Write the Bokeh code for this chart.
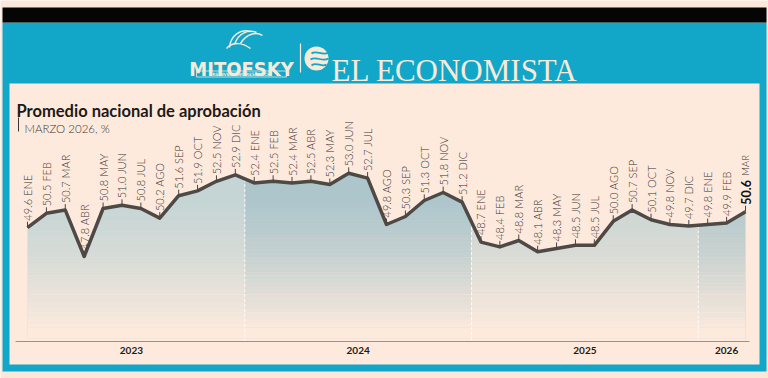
import numpy as np
from bokeh.plotting import figure
from bokeh.models import Range1d
from bokeh.core.properties import value
from bokeh.embed import file_html
from bokeh.resources import INLINE

# ---------------- data ----------------
months = ["ENE", "FEB", "MAR", "ABR", "MAY", "JUN", "JUL", "AGO", "SEP", "OCT", "NOV", "DIC"]
years = ["2023", "2024", "2025", "2026"]
values_2023 = [49.6, 50.5, 50.7, 47.8, 50.8, 51.0, 50.8, 50.2, 51.6, 51.9, 52.5, 52.9]
values_2024 = [52.4, 52.5, 52.4, 52.5, 52.3, 53.0, 52.7, 49.8, 50.3, 51.3, 51.8, 51.2]
values_2025 = [48.7, 48.4, 48.8, 48.1, 48.3, 48.5, 48.5, 50.0, 50.7, 50.1, 49.8, 49.7]
values_2026 = [49.8, 49.9, 50.6]
title = "Promedio nacional de aprobación"
subtitle = "MARZO 2026, %"

series = [values_2023, values_2024, values_2025, values_2026]
vals = np.array(sum(series, []), dtype=float)
n = len(vals)
idx = np.arange(n, dtype=float)
mlabels = [months[i % 12] for i in range(n)]

# ---------------- styling ----------------
W, H = 768, 378
PEACH = "#fce7d9"
PANEL = "#fdeadd"
TEAL = "#12a7c8"
CREAM = "#f7ead8"
LINE = "#4f4946"
TXT = "#383230"
FONT = "Lato"
LIGHT = "'Lato Light', Lato"
COND = "'DejaVu Sans Condensed', 'DejaVu Sans'"

# pixel placement of the plotting area
X0_PX, X1_PX = 27.0, 745.0
step = (X1_PX - X0_PX) / (n - 1)
REF_V, REF_Y, PPU = 47.8, 256.0, 16.0  # value at pixel row, pixels per unit
LABEL_GAP = 7.0 / PPU                    # label starts 7 px above its point


def val_at(ypx):
    return REF_V + (REF_Y - ypx) / PPU


p = figure(width=W, height=H, x_range=Range1d(0, W), y_range=Range1d(H, 0),
           x_axis_type=None, y_axis_type=None, min_border=0,
           toolbar_location=None, output_backend="svg")
p.grid.visible = False
p.outline_line_color = None
p.background_fill_color = PEACH
p.border_fill_color = PEACH
p.extra_x_ranges = {"idx": Range1d(-X0_PX / step, (W - X0_PX) / step)}
p.extra_y_ranges = {"val": Range1d(val_at(H), val_at(0))}

# ---------------- frame / header ----------------
p.quad(left=[2], right=[766], top=[22], bottom=[371], fill_color=TEAL, line_color=None)
p.quad(left=[2], right=[766], top=[7], bottom=[22], fill_color="#050505", line_color=None)
p.quad(left=[9], right=[759], top=[83], bottom=[364], fill_color=PANEL, line_color=None)

# Mitofsky logo
p.text(x=[241], y=[68], text=["MITOFSKY"], text_font=value(COND),
       text_font_style="bold", text_font_size="20px", text_align="center",
       text_baseline="alphabetic", text_color=CREAM)
p.quad(left=[196], right=[286], top=[70.5], bottom=[76.5], fill_color=None,
       line_color=CREAM, line_width=0.8)
p.text(x=[241], y=[73.8], text=["REINVENTING RESEARCH"], text_font=value("DejaVu Sans Condensed"),
       text_font_style="bold", text_font_size="4.6px", text_align="center",
       text_baseline="middle", text_color=CREAM)
p.bezier(x0=[229, 234, 240], y0=[47, 44, 43], x1=[250, 256, 262], y1=[31, 32, 35],
         cx0=[230, 238, 246], cy0=[35, 32, 33], cx1=[240, 248, 256], cy1=[28, 29, 31],
         line_color=CREAM, line_width=1.5)
p.bezier(x0=[226], y0=[48], x1=[250], y1=[48], cx0=[232], cy0=[41], cx1=[242], cy1=[42],
         line_color=CREAM, line_width=1.5)
# separator
p.segment(x0=[300], y0=[43], x1=[300], y1=[72], line_color=CREAM, line_width=1.2)
# El Economista logo (globe with stripes)
p.scatter(x=[316], y=[58], size=24, marker="circle", fill_color=CREAM, line_color=None)
p.bezier(x0=[311, 310, 311], y0=[53, 59, 65], x1=[328, 328, 326], y1=[52, 58, 64],
         cx0=[316, 316, 316], cy0=[49, 55, 61], cx1=[322, 322, 321], cy1=[56, 62, 67],
         line_color=TEAL, line_width=1.8)
p.text(x=[331], y=[70], text=["EL ECONOMISTA"], text_font=value("Liberation Serif"),
       text_font_size="31px", text_baseline="alphabetic", text_color=CREAM)

# title / subtitle
p.text(x=[16], y=[110], text=[title], text_font=value(FONT), text_font_style="bold",
       text_font_size="16.5px", text_baseline="alphabetic", text_color="#1d1917")
p.segment(x0=[18], y0=[117], x1=[18], y1=[131], line_color="#3a3432", line_width=1)
p.text(x=[24], y=[128], text=[subtitle], text_font=value(LIGHT),
       text_font_size="11.5px", text_baseline="alphabetic", text_color="#3a3432")

# ---------------- area fills per year ----------------
bottom_val = val_at(338)
bounds = [0.0, 11.5, 23.5, 35.5, float(n - 1)]
fills = ["#c5d5d5", "#adc6cc", "#cad6d3", "#b3c8cc"]
for k in range(4):
    lo, hi = bounds[k], bounds[k + 1]
    inner = idx[(idx > lo) & (idx < hi)]
    xs = np.concatenate([[lo], inner, [hi]])
    ys = np.interp(xs, idx, vals)
    p.varea(x=xs, y1=np.full(len(xs), bottom_val), y2=ys, fill_color=fills[k],
            x_range_name="idx", y_range_name="val")

# fade to the panel colour towards the bottom
g_top, g_bot, steps = 190.0, 338.0, 40
edges = np.linspace(g_top, g_bot, steps + 1)
mids = (edges[:-1] + edges[1:]) / 2
alphas = np.clip((mids - g_top) / (330 - g_top), 0, 1) ** 1.5
p.quad(left=np.zeros(steps), right=np.full(steps, n - 1.0), top=edges[:-1], bottom=edges[1:] + 0.3,
       fill_color=PANEL, fill_alpha=alphas, line_color=None, x_range_name="idx")

# year separators
bx = np.array(bounds[1:4])
p.segment(x0=bx, y0=np.interp(bx, idx, vals), x1=bx, y1=np.full(3, val_at(341)),
          line_color="white", line_dash="3 2", line_width=1, line_alpha=0.85,
          x_range_name="idx", y_range_name="val")

# axis line and years
p.segment(x0=[15], y0=[341], x1=[749], y1=[341], line_color="#a48e80", line_width=1)
centers = []
start = 0
for s in series:
    centers.append(start + (len(s) - 1) / 2)
    start += len(s)
p.text(x=centers, y=[350] * 4, text=years, text_font=value(FONT), text_font_style="bold",
       text_font_size="10px", text_align="center", text_baseline="middle",
       text_color="#221a18", x_range_name="idx")

# ---------------- line, ticks and labels ----------------
p.line(idx, vals, line_color=LINE, line_width=3.5, line_join="round",
       x_range_name="idx", y_range_name="val")
p.ray(x=idx, y=vals, length=6, length_units="screen", angle=np.pi / 2,
      line_color="#4a4442", line_width=1, x_range_name="idx", y_range_name="val")

lab = [f"{v:.1f} {m}" for v, m in zip(vals[:-1], mlabels[:-1])]
p.text(x=idx[:-1], y=vals[:-1] + LABEL_GAP, text=lab, angle=np.pi / 2, text_align="left",
       text_baseline="middle", text_font=value(LIGHT),
       text_font_size="11px", text_color=TXT, x_range_name="idx", y_range_name="val")
p.text(x=idx[-1:], y=vals[-1:] + LABEL_GAP, text=[f"{vals[-1]:.1f}"], angle=np.pi / 2,
       text_align="left", text_baseline="middle", text_font=value(FONT), text_font_style="bold",
       text_font_size="12.5px", text_color="#111111", x_range_name="idx", y_range_name="val")
p.text(x=idx[-1:], y=vals[-1:] + LABEL_GAP + 29 / PPU, text=[mlabels[-1]], angle=np.pi / 2,
       text_align="left", text_baseline="middle", text_font=value(LIGHT),
       text_font_size="9.5px", text_color=TXT, x_range_name="idx", y_range_name="val")

open("out.html", "w").write(file_html(p, INLINE))
